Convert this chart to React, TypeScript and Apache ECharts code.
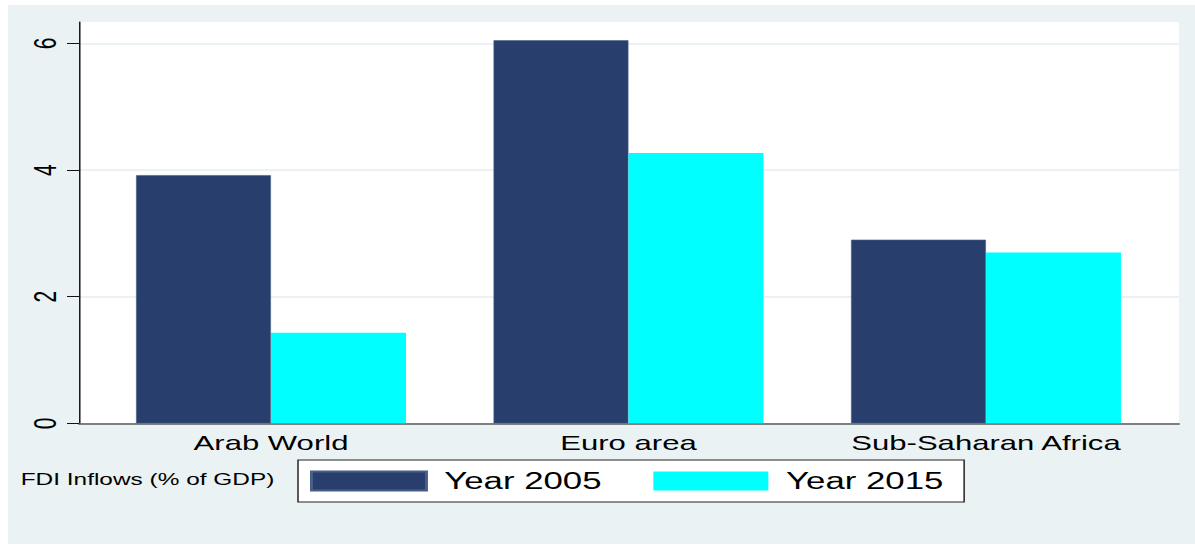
import React, { useEffect, useRef } from "react";
import * as echarts from "echarts";

const categories = ["Arab World", "Euro area", "Sub-Saharan Africa"];
const year2005 = [3.92, 6.05, 2.9];
const year2015 = [1.43, 4.27, 2.7];
const yTicks = [0, 2, 4, 6];
const seriesNames = ["Year 2005", "Year 2015"];
const noteText = "FDI Inflows (% of GDP)";

const S = 1.48; // horizontal stretch of the original figure
const OUT_W = 1195;
const OUT_H = 547;
const BG_LEFT = 8;
const BG_TOP = 5;
const BG_BOTTOM = 544;
const CW = (OUT_W - BG_LEFT) / S;
const CH = BG_BOTTOM - BG_TOP;

const FONT = "'Liberation Sans', Arial, Helvetica, sans-serif";

export default function App() {
  const ref = useRef<HTMLDivElement>(null);

  useEffect(() => {
    document.body.style.margin = "0";
    if (!ref.current) return;
    const chart = echarts.init(ref.current, null, { renderer: "svg" });
    const plotTop = 17;
    const plotBottom = CH - (423.3 - BG_TOP);
    const option = {
      animation: false,
      backgroundColor: "#EAF2F3",
      textStyle: { fontFamily: FONT },
      grid: [
        {
          left: (79 - BG_LEFT) / S,
          right: CW - (1179 - BG_LEFT) / S,
          top: plotTop,
          bottom: plotBottom,
          show: true,
          backgroundColor: "#ffffff",
          borderWidth: 0,
        },
        {
          left: (92.25 - BG_LEFT) / S,
          right: CW - (1164.75 - BG_LEFT) / S,
          top: plotTop,
          bottom: plotBottom,
        },
      ],
      xAxis: [
        {
          gridIndex: 0,
          type: "value",
          min: 0,
          max: 1,
          axisLine: { show: true, lineStyle: { color: "#5a5a5a", width: 1.5 } },
          axisTick: { show: false },
          axisLabel: { show: false },
          splitLine: { show: false },
        },
        {
          gridIndex: 1,
          type: "category",
          data: categories,
          axisLine: { show: false },
          axisTick: { show: false },
          splitLine: { show: false },
          axisLabel: {
            color: "#000",
            fontSize: 21,
            fontFamily: FONT,
            margin: 9,
            interval: 0,
          },
        },
      ],
      yAxis: [
        {
          gridIndex: 0,
          type: "value",
          min: 0,
          max: 6.34,
          interval: 2,
          axisLine: { show: true, lineStyle: { color: "#111", width: 1 } },
          axisTick: {
            show: true,
            length: 12 / S,
            customValues: yTicks,
            lineStyle: { color: "#111", width: 1 },
          },
          axisLabel: {
            show: true,
            customValues: yTicks,
            rotate: 90,
            fontSize: 21,
            color: "#000",
            fontFamily: FONT,
            margin: 12,
          },
          splitLine: { show: true, lineStyle: { color: "#EAF2F3", width: 2 } },
        },
        {
          gridIndex: 1,
          type: "value",
          min: 0,
          max: 6.34,
          interval: 2,
          show: false,
        },
      ],
      legend: {
        data: seriesNames,
        left: (298 - BG_LEFT) / S,
        top: 460 - BG_TOP,
        orient: "horizontal",
        icon: "rect",
        itemWidth: 115 / S,
        itemHeight: 19,
        itemGap: 35,
        padding: [9, 14, 9, 12 / S],
        backgroundColor: "#ffffff",
        borderColor: "#222",
        borderWidth: 1,
        borderRadius: 0,
        textStyle: {
          color: "#000",
          fontSize: 23.5,
          fontFamily: FONT,
          lineHeight: 19,
          padding: [0, 0, 0, 7],
        },
      },
      graphic: [
        {
          type: "text",
          left: (20.7 - BG_LEFT) / S,
          top: 480 - BG_TOP - 9,
          style: {
            text: noteText,
            fontSize: 16.5,
            fontFamily: FONT,
            fill: "#000",
          },
        },
      ],
      series: [
        {
          name: seriesNames[0],
          type: "bar",
          xAxisIndex: 1,
          yAxisIndex: 1,
          data: year2005,
          barWidth: 135 / S,
          barGap: "0%",
          itemStyle: { color: "#283F6D", borderColor: "#4a5f88", borderWidth: 0.5 },
        },
        {
          name: seriesNames[1],
          type: "bar",
          xAxisIndex: 1,
          yAxisIndex: 1,
          data: year2015,
          barWidth: 135 / S,
          barGap: "0%",
          itemStyle: { color: "#00FFFF" },
        },
      ],
    };
    chart.setOption(option as any);
    return () => chart.dispose();
  }, []);

  return (
    <div
      style={{
        position: "relative",
        width: OUT_W,
        height: OUT_H,
        background: "#ffffff",
        overflow: "hidden",
      }}
    >
      <div
        ref={ref}
        style={{
          position: "absolute",
          left: BG_LEFT,
          top: BG_TOP,
          width: CW,
          height: CH,
          transform: `scaleX(${S})`,
          transformOrigin: "0 0",
        }}
      />
    </div>
  );
}
